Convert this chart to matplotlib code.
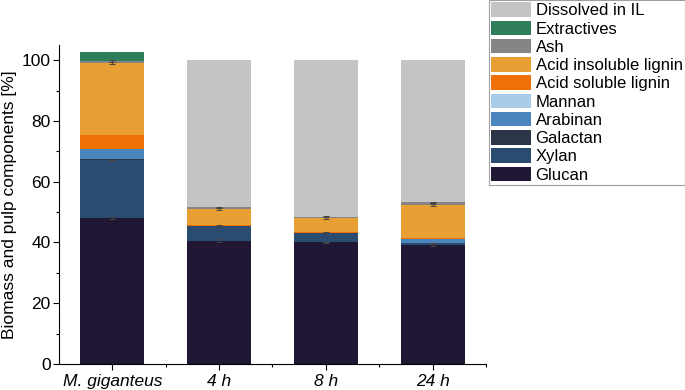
import numpy as np
import matplotlib.pyplot as plt
from matplotlib.ticker import MultipleLocator, FixedLocator

plt.rcParams["font.family"] = ["Liberation Sans", "DejaVu Sans"]

# Muestras (eje x)
samples = ["M. giganteus", "4 h", "8 h", "24 h"]

# Componentes en %, de abajo hacia arriba
glucan = [48.0, 40.6, 40.0, 39.1]
xylan = [19.0, 4.9, 3.1, 0.6]
galactan = [0.4, 0.0, 0.0, 0.0]
arabinan = [3.2, 0.0, 0.0, 1.4]
mannan = [0.3, 0.0, 0.0, 0.0]
acid_sol_lignin = [4.6, 0.2, 0.4, 0.5]
acid_insol_lignin = [23.5, 5.4, 4.5, 10.8]
ash = [0.7, 0.5, 0.5, 0.8]
extractives = [2.9, 0.0, 0.0, 0.0]
dissolved = [0.0, 48.4, 51.5, 46.8]

# errores aproximados
glucan_err = [0.4, 0.5, 0.3, 0.3]
xylan_err = [0.3, 0.3, 0.3, 0.2]
lignin_err = [0.4, 0.3, 0.3, 0.3]
ash_err = [0.2, 0.2, 0.2, 0.2]

components = [
    ("Glucan", glucan, "#201734", glucan_err),
    ("Xylan", xylan, "#2b4c71", xylan_err),
    ("Galactan", galactan, "#2d3548", None),
    ("Arabinan", arabinan, "#4a86bd", None),
    ("Mannan", mannan, "#a9cde9", None),
    ("Acid soluble lignin", acid_sol_lignin, "#ef7106", None),
    ("Acid insoluble lignin", acid_insol_lignin, "#e8a035", lignin_err),
    ("Ash", ash, "#858585", ash_err),
    ("Extractives", extractives, "#2e7d5b", None),
    ("Dissolved in IL", dissolved, "#c4c4c4", None),
]

fig = plt.figure(figsize=(6.85, 3.9), dpi=100)
ax = fig.add_axes([0.0861, 0.0667, 0.6234, 0.818])

x = np.arange(len(samples))
bottom = np.zeros(len(samples))
handles = []
for name, vals, color, err in components:
    vals = np.array(vals)
    b = ax.bar(x, vals, width=0.6, bottom=bottom, color=color,
               edgecolor="none", label=name, zorder=2)
    handles.append(b)
    if err is not None:
        ax.errorbar(x, bottom + vals, yerr=err, fmt="none", ecolor="#444444",
                    elinewidth=0.7, capsize=2.5, capthick=0.7, zorder=3)
    bottom = bottom + vals

ax.set_xlim(-0.5, 3.5)
ax.set_ylim(0, 105)
ax.set_xticks(x)
ax.set_xticklabels(samples, fontsize=12.5, style="italic")
ax.xaxis.set_minor_locator(FixedLocator(x + 0.5))
ax.yaxis.set_major_locator(MultipleLocator(20))
ax.yaxis.set_minor_locator(MultipleLocator(10))
ax.tick_params(axis="y", labelsize=12.5, direction="out", length=4, width=0.8, pad=2)
ax.tick_params(axis="x", direction="out", length=4, width=0.8, pad=3)
ax.tick_params(which="minor", direction="out", length=2.5, width=0.8)
ax.set_ylabel("Biomass and pulp components [%]", fontsize=12.5, labelpad=3)
for s in ("top", "right"):
    ax.spines[s].set_visible(False)
ax.spines["left"].set_linewidth(0.8)
ax.spines["bottom"].set_linewidth(0.8)

leg = fig.legend(handles[::-1], [c[0] for c in components][::-1],
                 loc="upper right", bbox_to_anchor=(1.0, 1.0),
                 fontsize=12, frameon=True, fancybox=False,
                 handlelength=2.4, handleheight=0.95, handletextpad=0.25,
                 labelspacing=0.14, borderpad=0.15, borderaxespad=0.0)
leg.get_frame().set_edgecolor("#888888")
leg.get_frame().set_linewidth(0.8)

fig.savefig("out.png", dpi=100)
